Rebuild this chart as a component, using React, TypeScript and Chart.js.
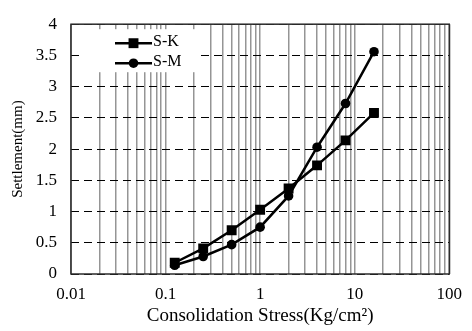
import React, { useEffect, useRef } from "react";
import { Chart, registerables } from "chart.js";

Chart.register(...registerables);

// Consolidation stress steps (Kg/cm²) and measured settlement (mm)
const stressSteps = [0.125, 0.25, 0.5, 1, 2, 4, 8, 16];
const settlementSK = [0.18, 0.41, 0.7, 1.03, 1.37, 1.74, 2.14, 2.58];
const settlementSM = [0.14, 0.28, 0.47, 0.75, 1.25, 2.03, 2.73, 3.56];
const seriesNames = ["S-K", "S-M"];

// Axis ranges and labelled decades
const xDecades = [0.01, 0.1, 1, 10, 100];
const xDecadeLabels = ["0.01", "0.1", "1", "10", "100"];
const yMin = 0;
const yMax = 4;
const yStep = 0.5;

const FONT = "'Liberation Serif', 'Times New Roman', serif";

// Grid positions for the log axis: 1..9 within each decade, plus the last decade
const xGridValues: number[] = [];
for (let d = 0; d < xDecades.length - 1; d++) {
  for (let m = 1; m <= 9; m++) xGridValues.push(xDecades[d] * m);
}
xGridValues.push(xDecades[xDecades.length - 1]);

const framePlugin = {
  id: "frame",
  afterDraw(chart: any) {
    const { ctx, chartArea } = chart;
    const { left, top, right, bottom } = chartArea;
    ctx.save();
    ctx.strokeStyle = "#2b2b2b";
    ctx.lineWidth = 1.5;
    ctx.strokeRect(left, top, right - left, bottom - top);

    // Legend box inside the plot, upper left
    const boxX = left + 12;
    const boxY = top + 5;
    const boxW = 113;
    const boxH = 43;
    ctx.fillStyle = "#ffffff";
    ctx.fillRect(boxX, boxY, boxW, boxH);

    chart.data.datasets.forEach((ds: any, i: number) => {
      const y = boxY + 14 + i * 20;
      const x0 = boxX + 32;
      const x1 = boxX + 69;
      ctx.strokeStyle = ds.borderColor;
      ctx.lineWidth = ds.borderWidth;
      ctx.beginPath();
      ctx.moveTo(x0, y);
      ctx.lineTo(x1, y);
      ctx.stroke();
      ctx.fillStyle = ds.pointBackgroundColor;
      const cx = (x0 + x1) / 2;
      if (ds.pointStyle === "rect") {
        const s = Math.SQRT1_2 * ds.pointRadius;
        ctx.fillRect(cx - s, y - s, 2 * s, 2 * s);
      } else {
        ctx.beginPath();
        ctx.arc(cx, y, ds.pointRadius, 0, Math.PI * 2);
        ctx.fill();
      }
      ctx.fillStyle = "#000";
      ctx.font = `16px ${FONT}`;
      ctx.textBaseline = "middle";
      ctx.textAlign = "left";
      ctx.fillText(ds.label, x1 + 1, y - 1);
    });
    ctx.restore();
  },
};

export default function App() {
  const canvasRef = useRef<HTMLCanvasElement | null>(null);

  useEffect(() => {
    document.body.style.margin = "0";
    const canvas = canvasRef.current;
    if (!canvas) return;

    const chart = new Chart(canvas, {
      type: "line",
      data: {
        datasets: [
          {
            label: seriesNames[0],
            data: stressSteps.map((x, i) => ({ x, y: settlementSK[i] })),
            borderColor: "#000",
            backgroundColor: "#000",
            pointBackgroundColor: "#000",
            pointBorderColor: "#000",
            borderWidth: 2.5,
            pointStyle: "rect",
            pointRadius: 7,
            pointBorderWidth: 0,
            tension: 0,
          },
          {
            label: seriesNames[1],
            data: stressSteps.map((x, i) => ({ x, y: settlementSM[i] })),
            borderColor: "#000",
            backgroundColor: "#000",
            pointBackgroundColor: "#000",
            pointBorderColor: "#000",
            borderWidth: 2.5,
            pointStyle: "circle",
            pointRadius: 4.8,
            pointBorderWidth: 0,
            tension: 0,
          },
        ],
      },
      options: {
        responsive: false,
        animation: false,
        devicePixelRatio: 1,
        layout: { padding: { top: 14, right: 14, left: 0, bottom: 0 } },
        plugins: {
          legend: { display: false },
          tooltip: { enabled: false },
        },
        scales: {
          x: {
            type: "logarithmic",
            min: xDecades[0],
            max: xDecades[xDecades.length - 1],
            afterBuildTicks: (scale: any) => {
              scale.ticks = xGridValues.map((v) => ({ value: v }));
            },
            afterFit: (scale: any) => {
              scale.height = 57;
            },
            grid: {
              color: "#959595",
              lineWidth: 1.5,
              drawTicks: false,
            },
            border: { display: false },
            ticks: {
              autoSkip: false,
              maxRotation: 0,
              padding: 10,
              color: "#000",
              font: { family: FONT, size: 17 },
              callback: (value: any) => {
                const idx = xDecades.findIndex(
                  (d) => Math.abs(d - Number(value)) / d < 1e-6
                );
                return idx >= 0 ? xDecadeLabels[idx] : "";
              },
            },
            title: {
              display: true,
              text: "Consolidation Stress(Kg/cm²)",
              color: "#000",
              font: { family: FONT, size: 19 },
              padding: { top: 0, bottom: 4 },
            },
          },
          y: {
            type: "linear",
            min: yMin,
            max: yMax,
            afterFit: (scale: any) => {
              scale.width = 71;
            },
            grid: {
              color: "#000",
              lineWidth: 1,
              drawTicks: false,
            },
            border: { display: false, dash: [8, 5] },
            ticks: {
              stepSize: yStep,
              padding: 14,
              color: "#000",
              font: { family: FONT, size: 17 },
              callback: (value: any) => String(Number(value)),
            },
            title: {
              display: true,
              text: "Settlement(mm)",
              color: "#000",
              font: { family: FONT, size: 15 },
              padding: { top: 9, bottom: 0 },
            },
          },
        },
      },
      plugins: [framePlugin],
    });

    return () => chart.destroy();
  }, []);

  return (
    <div style={{ width: 472, height: 331 }}>
      <canvas ref={canvasRef} width={472} height={331} />
    </div>
  );
}
